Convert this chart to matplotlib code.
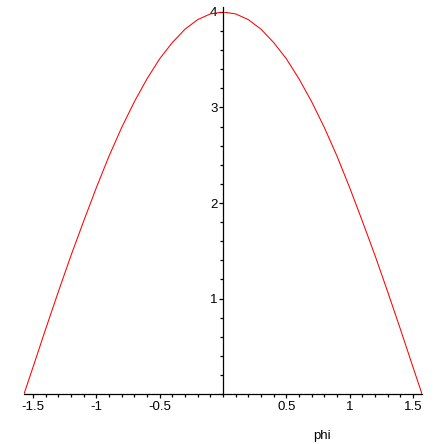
import matplotlib.pyplot as plt
from matplotlib.ticker import MultipleLocator, FixedLocator

plt.rcParams['font.family'] = ['Liberation Sans', 'DejaVu Sans']

# values
phi = [-1.5708, -1.5, -1.4, -1.3, -1.2, -1.1, -1.0, -0.9, -0.8, -0.7, -0.6,
       -0.5, -0.4, -0.3, -0.2, -0.1, 0.0, 0.1, 0.2, 0.3, 0.4, 0.5, 0.6, 0.7,
       0.8, 0.9, 1.0, 1.1, 1.2, 1.3, 1.4, 1.5, 1.5708]
value = [0.00, 0.28, 0.68, 1.07, 1.45, 1.81, 2.16, 2.49, 2.79, 3.06, 3.30,
         3.51, 3.68, 3.82, 3.92, 3.98, 4.00, 3.98, 3.92, 3.82, 3.68, 3.51, 3.30, 3.06,
         2.79, 2.49, 2.16, 1.81, 1.45, 1.07, 0.68, 0.28, 0.00]

x_ticks = [-1.5, -1, -0.5, 0.5, 1, 1.5]
x_labels = ['-1.5', '-1', '-0.5', '0.5', '1', '1.5']
y_ticks = [1, 2, 3, 4]
y_labels = ['1', '2', '3', '4']

fig = plt.figure(figsize=(4.44, 4.44), dpi=100)
ax = fig.add_axes([24 / 444, (444 - 394) / 444, 398 / 444, 382 / 444])

ax.plot(phi, value, color='red', linewidth=0.75)
ax.set_xlim(-1.5708, 1.5708)
ax.set_ylim(0, 4.0)

ax.spines['top'].set_visible(False)
ax.spines['right'].set_visible(False)
ax.spines['left'].set_position(('data', 0))
ax.spines['bottom'].set_position(('data', 0))
for s in ['left', 'bottom']:
    ax.spines[s].set_linewidth(0.9)
ax.spines['left'].set_bounds(0, 4.05)

ax.xaxis.set_major_locator(FixedLocator(x_ticks))
ax.set_xticklabels(x_labels)
ax.xaxis.set_minor_locator(MultipleLocator(0.1))
ax.yaxis.set_major_locator(FixedLocator(y_ticks))
ax.set_yticklabels(y_labels)
ax.yaxis.set_minor_locator(MultipleLocator(0.2))

ax.tick_params(which='major', direction='out', length=3, width=0.9, labelsize=9.5, pad=2)
ax.tick_params(which='minor', direction='out', length=2, width=0.9)
ax.tick_params(axis='y', which='major', pad=1)

fig.text(322 / 444, 1 - 436 / 444, 'phi', fontsize=9.5, ha='center', va='center')

fig.savefig('out.png', dpi=100)
